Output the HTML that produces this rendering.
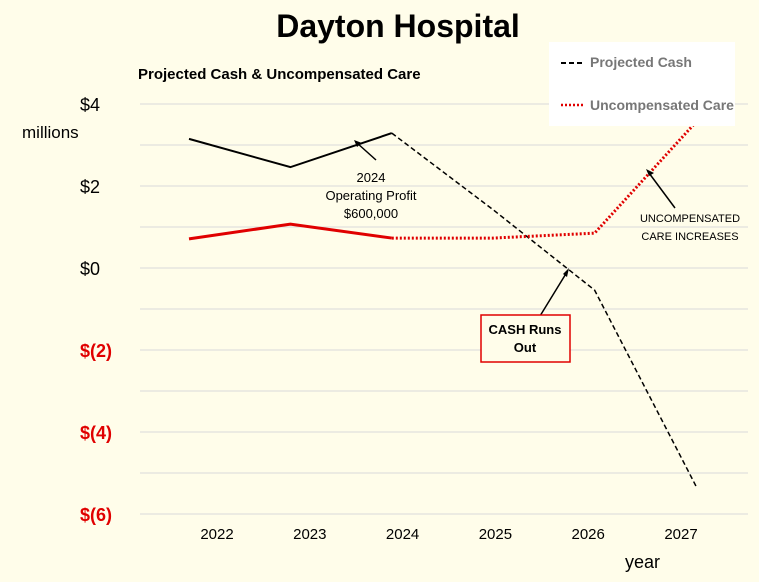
<!DOCTYPE html>
<html><head><meta charset="utf-8"><style>
body{margin:0;background:#fffdea;}
svg{display:block;font-family:"Liberation Sans",sans-serif;}
</style></head><body>
<svg width="759" height="582" viewBox="0 0 759 582">
<rect width="759" height="582" fill="#fffdea"/>
<text x="398" y="37" font-size="32" font-weight="bold" text-anchor="middle">Dayton Hospital</text>
<text x="138" y="79" font-size="15" font-weight="bold">Projected Cash &amp; Uncompensated Care</text>
<g id="grid"></g>
<g id="yt"></g>
<text x="22" y="138" font-size="17">millions</text>
<g id="xt"></g>
<text x="625" y="568" font-size="18">year</text>
<g id="series"></g>
<!-- annotations -->
<g>
<line x1="376" y1="160" x2="357" y2="143" stroke="#000" stroke-width="1.5"/>
<polygon points="354,140 362,143 357,147" fill="#000"/>
<text x="371" y="182" font-size="13" text-anchor="middle">2024</text>
<text x="371" y="200" font-size="13" text-anchor="middle">Operating Profit</text>
<text x="371" y="218" font-size="13" text-anchor="middle">$600,000</text>
<line x1="540" y1="316" x2="567" y2="272" stroke="#000" stroke-width="1.5"/>
<polygon points="569,268 567,277 563,274" fill="#000"/>
<rect x="481" y="315" width="89" height="47" fill="#fffdea" stroke="#e00000" stroke-width="1.5"/>
<text x="525" y="334" font-size="13" font-weight="bold" text-anchor="middle">CASH Runs</text>
<text x="525" y="352" font-size="13" font-weight="bold" text-anchor="middle">Out</text>
<line x1="675" y1="208" x2="649" y2="173" stroke="#000" stroke-width="1.5"/>
<polygon points="646,169 654,173 649,176" fill="#000"/>
<text x="690" y="222" font-size="11" text-anchor="middle">UNCOMPENSATED</text>
<text x="690" y="240" font-size="11" text-anchor="middle">CARE INCREASES</text>
</g>
<g>
<rect x="549" y="42" width="186" height="84" fill="#fff"/>
<line x1="561" y1="63" x2="585" y2="63" stroke="#000" stroke-width="2" stroke-dasharray="5,3"/>
<text x="590" y="67" font-size="14" font-weight="bold" fill="#777">Projected Cash</text>
<line x1="561" y1="105" x2="585" y2="105" stroke="#e00000" stroke-width="2.5" stroke-dasharray="2,2"/>
<text x="590" y="110" font-size="14" font-weight="bold" fill="#777">Uncompensated Care</text>
</g>
</svg>
<script>
const years=["2022","2023","2024","2025","2026","2027"];
const cash=[3.15,2.46,3.29,1.42,-0.54,-5.32];
const uncomp=[0.71,1.07,0.73,0.73,0.85,3.56];
const yTicks=[4,2,0,-2,-4,-6];
const yTickLabels=["$4","$2","$0","$(2)","$(4)","$(6)"];
const NS="http://www.w3.org/2000/svg";
function y(v){return 268-v*41;}
function px(i){return 189+i*101.4;}
function lx(i){return 217+i*92.8;}
function mk(t,a,p){const e=document.createElementNS(NS,t);for(const k in a)e.setAttribute(k,a[k]);p.appendChild(e);return e;}
const grid=document.getElementById('grid');
for(let v=-6;v<=4;v++){const l=mk('line',{x1:140,x2:748,y1:y(v),y2:y(v),stroke:'#d9d9d9','stroke-width':1},grid);

}
const yt=document.getElementById('yt');
yTicks.forEach((v,i)=>{const t=mk('text',{x:80,y:y(v)+7,'font-size':18,'text-anchor':'start',fill:v<0?'#e00000':'#000','font-weight':v<0?'bold':'normal'},yt);t.textContent=yTickLabels[i];

});
const xt=document.getElementById('xt');
years.forEach((yr,i)=>{const t=mk('text',{x:lx(i),y:539,'font-size':15,'text-anchor':'middle'},xt);t.textContent=yr;

});
const s=document.getElementById('series');
function poly(vals,a,b,attrs,name){const pts=[];for(let i=a;i<=b;i++)pts.push(px(i)+','+y(vals[i]));const p=mk('polyline',Object.assign({points:pts.join(' '),fill:'none'},attrs),s);

}
poly(cash,0,2,{stroke:'#000','stroke-width':2},'cash-actual-line');
poly(cash,2,5,{stroke:'#000','stroke-width':1.5,'stroke-dasharray':'5,3'},'cash-projected-line');
poly(uncomp,0,2,{stroke:'#e00000','stroke-width':3},'uncomp-actual-line');
poly(uncomp,2,5,{stroke:'#e00000','stroke-width':3,'stroke-dasharray':'2,2'},'uncomp-projected-line');
</script>
</body></html>
